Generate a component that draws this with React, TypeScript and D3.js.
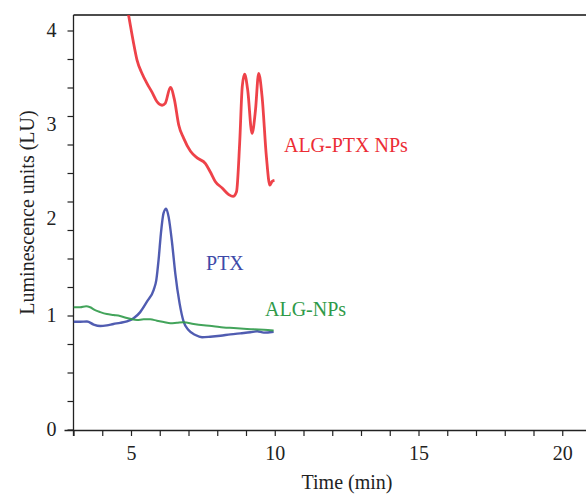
import React, { useEffect, useRef } from "react";
import * as d3 from "d3";

// time (min) and luminescence readings
const ptxNpTime = [4.85, 4.915, 5.09, 5.21, 5.38, 5.56, 5.73, 5.9, 6.08, 6.19, 6.37, 6.51, 6.66, 6.83, 7.07, 7.3, 7.59, 7.76, 7.93, 8.17, 8.4, 8.55, 8.67, 8.78, 8.87, 8.95, 9.06, 9.21, 9.33, 9.44, 9.56, 9.71, 9.83, 9.91, 9.99];
const ptxNpLU = [4.28, 4.17, 3.87, 3.69, 3.55, 3.44, 3.35, 3.25, 3.21, 3.23, 3.4, 3.27, 3.0, 2.86, 2.72, 2.65, 2.59, 2.5, 2.4, 2.33, 2.26, 2.24, 2.29, 2.81, 3.41, 3.54, 3.37, 2.91, 3.16, 3.55, 3.3, 2.66, 2.36, 2.4, 2.41];

const ptxTime = [3.0, 3.23, 3.47, 3.7, 3.93, 4.16, 4.39, 4.62, 4.86, 5.09, 5.32, 5.56, 5.79, 5.88, 5.96, 6.04, 6.13, 6.22, 6.31, 6.43, 6.54, 6.69, 6.83, 7.0, 7.24, 7.47, 7.76, 8.11, 8.46, 8.8, 9.15, 9.39, 9.62, 9.96];
const ptxLU = [0.95, 0.95, 0.952, 0.925, 0.912, 0.918, 0.93, 0.94, 0.953, 0.98, 1.04, 1.15, 1.27, 1.37, 1.58, 1.85, 2.06, 2.11, 2.02, 1.75, 1.44, 1.13, 0.95, 0.877, 0.833, 0.813, 0.818, 0.827, 0.839, 0.848, 0.857, 0.866, 0.854, 0.862];

const algTime = [3.0, 3.23, 3.44, 3.58, 3.75, 3.93, 4.16, 4.39, 4.62, 4.86, 5.03, 5.21, 5.44, 5.67, 5.9, 6.14, 6.37, 6.6, 6.83, 7.18, 7.53, 7.87, 8.22, 8.57, 8.92, 9.27, 9.62, 9.96];
const algLU = [1.09, 1.09, 1.1, 1.09, 1.06, 1.04, 1.02, 1.01, 1.0, 0.982, 0.971, 0.965, 0.971, 0.971, 0.959, 0.947, 0.936, 0.941, 0.946, 0.93, 0.918, 0.91, 0.9, 0.895, 0.889, 0.883, 0.88, 0.873];

const xLabels = [5, 10, 15, 20];
const yLabels = [0, 1, 2, 3, 4];

const series = [
  { name: "ALG-PTX NPs", t: ptxNpTime, v: ptxNpLU, color: "#ec2d35", width: 2.8, lx: 10.32, ly: 2.716 },
  { name: "PTX", t: ptxTime, v: ptxLU, color: "#3d4aa8", width: 2.4, lx: 7.61, ly: 1.474 },
  { name: "ALG-NPs", t: algTime, v: algLU, color: "#2f9a49", width: 2, lx: 9.66, ly: 1.003 },
];

const W = 586;
const H = 494;
const FONT = "'Liberation Serif', 'Times New Roman', serif";

export default function App() {
  const ref = useRef<SVGSVGElement>(null);

  useEffect(() => {
    const svg = d3.select(ref.current);
    svg.selectAll("*").remove();

    const x = d3.scaleLinear().domain([3, 21]).range([73.5, 73.5 + 18 * 28.75]);
    // the printed y labels are not evenly spaced, so the scale is piecewise
    const y = d3.scaleLinear().domain([0, 1, 2, 3, 4, 4.17]).range([430, 316, 219, 125, 31, 15]);
    const yMinor = d3.scaleLinear().domain([0, 14]).range([y(0), y(4)]);

    svg.append("defs").append("clipPath").attr("id", "plot")
      .append("rect").attr("x", x(3)).attr("y", y(4.17)).attr("width", W - x(3)).attr("height", y(0) - y(4.17));

    // top frame line
    svg.append("line")
      .attr("x1", x(3)).attr("x2", W).attr("y1", y(4.17)).attr("y2", y(4.17))
      .attr("stroke", "#111").attr("stroke-width", 1.5);

    // x axis
    const xAxis = svg.append("g")
      .attr("transform", `translate(0,${y(0)})`)
      .call(
        d3.axisBottom(x)
          .tickValues(d3.range(3, 21))
          .tickSize(6)
          .tickSizeOuter(0)
          .tickPadding(10)
          .tickFormat((d) => (xLabels.includes(+d) ? String(d) : ""))
      );
    xAxis.attr("font-family", FONT);
    xAxis.select(".domain").attr("d", `M${x(3) - 9},0.5H${W}`);

    // y axis: minor ticks on a regular grid, labels at printed spots
    const yAxis = svg.append("g").attr("transform", `translate(${x(3)},0)`);
    yAxis.append("line")
      .attr("x1", 0).attr("x2", 0).attr("y1", y(4.17)).attr("y2", y(0) + 6)
      .attr("stroke", "#222").attr("stroke-width", 1.3);
    yAxis.selectAll("line.minor").data(d3.range(15)).join("line")
      .attr("class", "minor")
      .attr("x1", -6).attr("x2", 0)
      .attr("y1", (d) => yMinor(d)).attr("y2", (d) => yMinor(d))
      .attr("stroke", "#222").attr("stroke-width", 1.2);
    yAxis.selectAll("text").data(yLabels).join("text")
      .attr("x", -17).attr("y", (d) => y(d)).attr("dy", "0.32em")
      .attr("text-anchor", "end").text((d) => d);

    xAxis.selectAll("line").attr("stroke", "#222").attr("stroke-width", 1.2);
    xAxis.select(".domain").attr("stroke", "#222").attr("stroke-width", 1.3);
    svg.selectAll("text").attr("font-family", FONT).attr("font-size", 20).attr("fill", "#222");

    const g = svg.append("g").attr("clip-path", "url(#plot)");
    series.forEach((s) => {
      const gen = d3.line<number>()
        .x((i) => x(s.t[i]))
        .y((i) => y(s.v[i]))
        .curve(d3.curveMonotoneX);
      g.append("path")
        .attr("d", gen(d3.range(s.t.length)))
        .attr("fill", "none")
        .attr("stroke", s.color)
        .attr("stroke-width", s.width)
        .attr("stroke-linejoin", "round")
        .attr("stroke-opacity", 0.9);
      svg.append("text")
        .attr("x", x(s.lx)).attr("y", y(s.ly))
        .attr("font-family", FONT).attr("font-size", 20)
        .attr("fill", s.color)
        .text(s.name);
    });

    // axis titles
    svg.append("text")
      .attr("x", 347).attr("y", 489)
      .attr("text-anchor", "middle")
      .attr("font-family", FONT).attr("font-size", 20).attr("fill", "#222")
      .text("Time (min)");
    svg.append("text")
      .attr("transform", `translate(34,${(y(0) + y(4.17)) / 2 - 10}) rotate(-90)`)
      .attr("text-anchor", "middle")
      .attr("font-family", FONT).attr("font-size", 20).attr("fill", "#222")
      .text("Luminescence units (LU)");
  }, []);

  return (
    <svg
      ref={ref}
      width={W}
      height={H}
      style={{ position: "absolute", left: 0, top: 0, background: "#fff" }}
    />
  );
}
